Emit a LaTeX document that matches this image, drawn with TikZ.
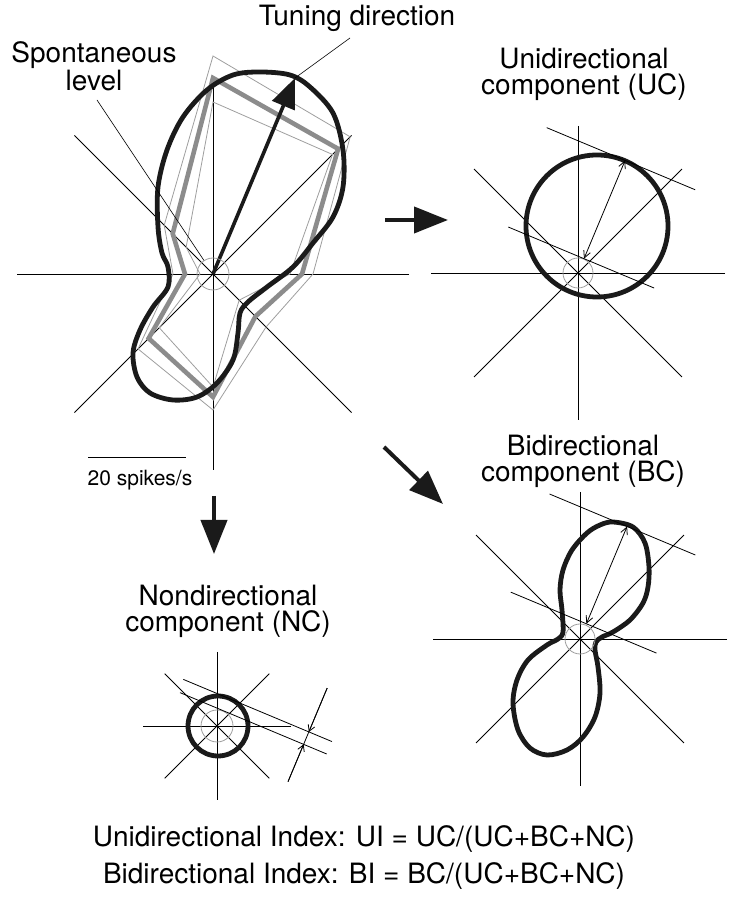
\documentclass[tikz,border=0pt]{standalone}
\usepackage{fontspec}
\setmainfont{TeX Gyre Heros}
\usetikzlibrary{arrows.meta}
\definecolor{curvecol}{HTML}{1A1A1A}
\definecolor{polygray}{HTML}{8C8C8C}
\definecolor{thingray}{HTML}{9E9E9E}
\begin{document}
\begin{tikzpicture}[x=1pt,y=1pt,
  axis/.style={line width=0.9pt, black},
  thinline/.style={line width=0.8pt, black},
  pointer/.style={line width=0.6pt, black},
  resp/.style={line width=4.8pt, draw=curvecol, line join=round},
  meanpoly/.style={line width=4.6pt, draw=polygray, line join=miter},
  sepoly/.style={line width=0.8pt, draw=thingray},
  spontc/.style={circle, draw=thingray, line width=0.8pt, inner sep=0pt},
  bigarrow/.style={line width=4pt, curvecol, -{Triangle[length=34pt,width=26pt]}},
  dimarrow/.style={line width=0.8pt, black, {Straight Barb[length=7pt,width=7pt]}-{Straight Barb[length=7pt,width=7pt]}},
  tickarrow/.style={line width=0.8pt, black, -{Straight Barb[length=6pt,width=7pt]}},
  lbl/.style={font=\fontsize{28}{32}\selectfont, anchor=base, inner sep=0pt},
  lbltwo/.style={font=\fontsize{28}{26}\selectfont, align=center, anchor=north, inner sep=0pt},
  smalllbl/.style={font=\fontsize{21}{24}\selectfont, anchor=base, inner sep=0pt}
]
\useasboundingbox (0,0) rectangle (733,899);

% ---------------- main polar plot ----------------
\coordinate (M) at (213,625);
\begin{scope}[shift={(213,625)}]
  \foreach \a in {0,45,90,135} \draw[axis] (\a:196) -- (\a+180:196);
  % SE polygons (thin)
  \draw[sepoly] (90:218) -- (45:194) -- (0:100) -- (-45:75) -- (-90:136) -- (-135:106) -- (180:40) -- (135:69) -- cycle;
  \draw[sepoly] (90:172) -- (45:169) -- (0:77) -- (-45:37) -- (-90:113) -- (-135:76) -- (180:13) -- (135:38) -- cycle;
  % mean polygon
  \draw[meanpoly] (90:196) -- (45:177) -- (0:89) -- (-45:60) -- (-90:123) -- (-135:91) -- (180:28) -- (135:57) -- cycle;
\end{scope}
% smoothed tuning curve
\draw[resp] plot[smooth cycle, tension=0.55] coordinates {
 (260,827) (290,824) (310,812) (333,786) (343,749) (343,712) (333,682) (313,656)
 (293,632) (267,612) (248,597) (240,586) (238,566) (233,539) (217,516) (197,502)
 (173,499) (150,506) (137,522) (133,546) (140,569) (153,592) (168,612) (168,632)
 (162,646) (158,672) (158,712) (167,749) (183,782) (207,809) (233,824)};
% tuning-direction arrow
\coordinate (Mtip) at (295,821);
\draw[line width=3.6pt, curvecol, -{Triangle[length=30pt,width=24pt]}] (M) -- (Mtip);
% spontaneous level circle
\node[spontc, minimum size=32pt] (Mspont) at (M) {};

% labels of main plot
\node[lbl] (tunlbl) at (357,873) {Tuning direction};
\node[lbltwo] (spolbl) at (94,857.5) {Spontaneous\\level};
\coordinate (tunptr) at (350,861);
\coordinate (spoptr) at (97,799);
\draw[pointer] (tunptr) -- (Mtip);
\draw[pointer] (spoptr) -- (Mspont);

% scale bar
\coordinate (sbA) at (88,441);
\coordinate (sbB) at (186,441);
\draw[line width=1pt] (sbA) -- (sbB);
\node[smalllbl] (sblbl) at (140,413) {20 spikes/s};

% ---------------- arrows between panels ----------------
\coordinate (arRa) at (385,679); \coordinate (arRb) at (448,679);
\draw[bigarrow] (arRa) -- (arRb);
\coordinate (arDa) at (384,452); \coordinate (arDb) at (443,395);
\draw[bigarrow] (arDa) -- (arDb);
\coordinate (arSa) at (214,403); \coordinate (arSb) at (214,345);
\draw[bigarrow] (arSa) -- (arSb);

% ---------------- unidirectional component ----------------
\node[lbltwo] (uclbl) at (584,851.5) {Unidirectional\\component (UC)};
\begin{scope}[shift={(578,626)}]
  \foreach \a in {0,45,90,135} \draw[axis] (\a:147) -- (\a+180:147);
\end{scope}
\draw[resp] (597,673) circle[radius=71];
\node[spontc, minimum size=30pt] (Uspont) at (578,626) {};
\begin{scope}[shift={(578,626)}, rotate=67.3]
  \draw[thinline] (122,-76) -- (122,85);
  \draw[thinline] (15.5,-76) -- (15.5,82);
  \coordinate (ua) at (15.5,0);
  \coordinate (ub) at (122,0);
  \draw[dimarrow] (ua) -- (ub);
\end{scope}

% ---------------- bidirectional component ----------------
\node[lbltwo] (bclbl) at (583,464.5) {Bidirectional\\component (BC)};
\begin{scope}[shift={(580,260)}]
  \foreach \a in {0,45,90,135} \draw[axis] (\a:147) -- (\a+180:147);
\end{scope}
\draw[resp] plot[smooth cycle, tension=0.55] coordinates {
 (613,377) (633,372) (645,356) (649,332) (648,312) (643,296) (630,279) (613,267)
 (602,262) (596,257) (595,249) (598,232) (600,206) (595,182) (583,162) (567,149)
 (547,144) (530,151) (518,169) (513,196) (517,219) (528,239) (547,254) (558,260)
 (563,267) (562,289) (560,309) (563,329) (572,349) (587,366) (600,374)};
\node[spontc, minimum size=30pt] (Bspont) at (580,260) {};
\begin{scope}[shift={(580,260)}, rotate=67.3]
  \draw[thinline] (122,-74) -- (122,84);
  \draw[thinline] (16.5,-76) -- (16.5,82);
  \coordinate (ba) at (16.5,0);
  \coordinate (bb) at (122,0);
  \draw[dimarrow] (ba) -- (bb);
\end{scope}

% ---------------- nondirectional component ----------------
\node[lbltwo] (nclbl) at (228,314.5) {Nondirectional\\component (NC)};
\begin{scope}[shift={(217,173)}]
  \foreach \a in {0,45,90,135} \draw[axis] (\a:74) -- (\a+180:74);
\end{scope}
\draw[resp] (218,173) circle[radius=30];
\node[spontc, minimum size=32pt] (Nspont) at (217,173) {};
\begin{scope}[shift={(217,173)}, rotate=67.3]
  \draw[thinline] (30,-112) -- (30,49);
  \draw[thinline] (16.5,-112) -- (16.5,47);
  \coordinate (na) at (77.5,-87);
  \coordinate (nb) at (30,-87);
  \coordinate (nc) at (-24,-87);
  \coordinate (nd) at (16.5,-87);
  \draw[thinline] (na) -- (nc);
  \draw[tickarrow] (na) -- (nb);
  \draw[tickarrow] (nc) -- (nd);
\end{scope}

% ---------------- indices ----------------
\node[lbl] (uidx) at (364,52) {Unidirectional Index: UI = UC/(UC+BC+NC)};
\node[lbl] (bidx) at (364,16) {Bidirectional Index: BI = BC/(UC+BC+NC)};
\end{tikzpicture}
\end{document}
